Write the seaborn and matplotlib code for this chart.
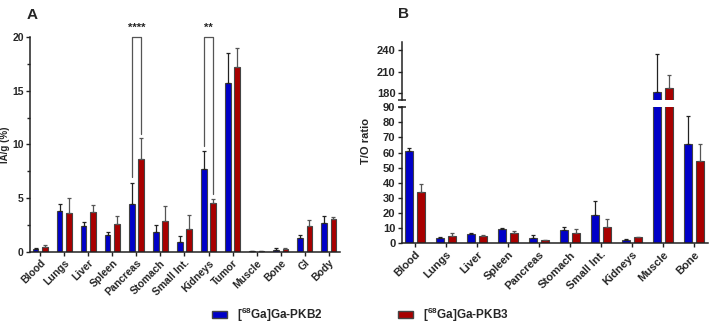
import numpy as np
import pandas as pd
import seaborn as sns
import matplotlib.pyplot as plt
from matplotlib.patches import Patch
from matplotlib.ticker import AutoMinorLocator, MultipleLocator

sns.set_style("white")
plt.rcParams['font.family'] = ['Liberation Sans', 'DejaVu Sans']
plt.rcParams['font.weight'] = 'bold'
plt.rcParams['mathtext.fontset'] = 'custom'
plt.rcParams['mathtext.bf'] = 'Liberation Sans:bold'
plt.rcParams['mathtext.rm'] = 'Liberation Sans:bold'
plt.rcParams['mathtext.default'] = 'bf'

# --- data: panel A, biodistribution (IA/g %) ---
organs_a = ['Blood', 'Lungs', 'Liver', 'Spleen', 'Pancreas', 'Stomach', 'Small Int.',
            'Kidneys', 'Tumor', 'Muscle', 'Bone', 'GI', 'Body']
pkb2_a = [0.22, 3.80, 2.36, 1.54, 4.43, 1.79, 0.94, 7.68, 15.72, 0.05, 0.19, 1.26, 2.67]
pkb2_a_sd = [0.08, 0.63, 0.38, 0.32, 1.97, 0.69, 0.54, 1.70, 2.77, 0.03, 0.12, 0.34, 0.63]
pkb3_a = [0.47, 3.62, 3.74, 2.61, 8.65, 2.86, 2.08, 4.50, 17.20, 0.05, 0.25, 2.36, 3.05]
pkb3_a_sd = [0.13, 1.38, 0.63, 0.69, 1.92, 1.42, 1.35, 0.40, 1.80, 0.03, 0.13, 0.60, 0.22]

# --- data: panel B, tumor-to-organ ratio ---
organs_b = ['Blood', 'Lungs', 'Liver', 'Spleen', 'Pancreas', 'Stomach', 'Small Int.',
            'Kidneys', 'Muscle', 'Bone']
pkb2_b = [61.2, 3.7, 5.9, 9.3, 3.7, 8.7, 18.9, 2.2, 181.4, 66.0]
pkb2_b_sd = [1.8, 0.6, 1.1, 0.9, 1.5, 2.2, 8.9, 0.4, 52.2, 17.9]
pkb3_b = [34.0, 5.0, 4.8, 6.7, 2.0, 6.7, 10.7, 3.9, 186.8, 54.5]
pkb3_b_sd = [4.9, 2.0, 0.4, 1.6, 0.4, 2.9, 5.6, 0.4, 19.1, 11.0]

label2 = r'[$^{68}$Ga]Ga-PKB2'
label3 = r'[$^{68}$Ga]Ga-PKB3'
blue = '#0000C8'
red = '#A80000'
palette = {label2: blue, label3: red}
err_cols = {label2: '#222222', label3: '#555555'}


def long_df(organs, v2, s2, v3, s3):
    d2 = pd.DataFrame({'organ': organs, 'value': v2, 'sd': s2, 'tracer': label2})
    d3 = pd.DataFrame({'organ': organs, 'value': v3, 'sd': s3, 'tracer': label3})
    return pd.concat([d2, d3], ignore_index=True)


def draw_bars(ax, df, width, gap, ylim):
    sns.barplot(data=df, x='organ', y='value', hue='tracer', palette=palette,
                width=width, gap=gap, errorbar=None, edgecolor='#444444',
                linewidth=0.8, saturation=1, legend=False, ax=ax)
    # patches come in hue order: all PKB2 then all PKB3
    n = df['organ'].nunique()
    for k, tr in enumerate([label2, label3]):
        sub = df[df['tracer'] == tr]
        xs = [p.get_x() + p.get_width() / 2 for p in ax.patches[k * n:(k + 1) * n]]
        ax.errorbar(xs, sub['value'], yerr=[np.zeros(n), sub['sd']], fmt='none',
                    ecolor=err_cols[tr], elinewidth=0.9, capsize=1.6, capthick=0.9, zorder=1)
    ax.set_ylim(*ylim)
    ax.set_xlabel('')
    ax.set_ylabel('')
    return ax


fig = plt.figure(figsize=(7.09, 3.25), dpi=100)

# ---------- panel A ----------
ax_a = fig.add_axes([0.0423, 0.2255, 0.4372, 0.6607])
df_a = long_df(organs_a, pkb2_a, pkb2_a_sd, pkb3_a, pkb3_a_sd)
draw_bars(ax_a, df_a, 0.76, 0.42, (0, 20))
ax_a.set_xlim(-0.43, 12.47)
ax_a.yaxis.set_major_locator(MultipleLocator(5))
ax_a.yaxis.set_minor_locator(AutoMinorLocator(2))
ax_a.set_ylabel('IA/g (%)', fontsize=7, fontweight='bold')
ax_a.yaxis.set_label_coords(-0.066, 0.5)

# significance brackets
x2 = [p.get_x() + p.get_width() / 2 for p in ax_a.patches[:13]]
x3 = [p.get_x() + p.get_width() / 2 for p in ax_a.patches[13:26]]
for idx, lo_l, lo_r, stars in [(4, 7.0, 11.0, '****'), (7, 9.8, 5.4, '**')]:
    ax_a.plot([x2[idx], x2[idx], x3[idx], x3[idx]], [lo_l, 20, 20, lo_r],
              color='#555555', lw=0.9, clip_on=False, zorder=3)
    ax_a.text((x2[idx] + x3[idx]) / 2, 20.35, stars, ha='center', va='bottom',
              fontsize=8, fontweight='bold', clip_on=False)

# ---------- panel B (broken y axis) ----------
ax_bl = fig.add_axes([0.5666, 0.2514, 0.4320, 0.4186])
ax_bu = fig.add_axes([0.5666, 0.6923, 0.4320, 0.1775], sharex=ax_bl)
df_b = long_df(organs_b, pkb2_b, pkb2_b_sd, pkb3_b, pkb3_b_sd)
draw_bars(ax_bl, df_b, 0.78, 0.385, (0, 90))
draw_bars(ax_bu, df_b, 0.78, 0.385, (171, 250))
ax_bl.set_xlim(-0.43, 9.45)
ax_bl.yaxis.set_major_locator(MultipleLocator(10))
ax_bu.set_yticks([180, 210, 240])
ax_bu.tick_params(axis='x', bottom=False, labelbottom=False)
ax_bl.set_ylabel('T/O ratio', fontsize=8, fontweight='bold', labelpad=3)
ax_bl.yaxis.set_label_coords(-0.1, 0.75)

# styling shared by all axes
for ax, fs in [(ax_a, 7.5), (ax_bl, 8), (ax_bu, 8)]:
    for s in ['top', 'right']:
        ax.spines[s].set_visible(False)
    ax.spines['left'].set_linewidth(1.1)
    ax.spines['bottom'].set_linewidth(1.1)
    ax.spines['left'].set_color('#222222')
    ax.spines['bottom'].set_color('#222222')
    ax.tick_params(axis='both', which='both', direction='out', length=3, width=1,
                   color='#222222', labelsize=fs, pad=1.5, left=True, bottom=True)
    ax.tick_params(axis='y', which='minor', length=2)
    for t in ax.get_yticklabels():
        t.set_fontweight('bold')
ax_bu.spines['bottom'].set_visible(False)
ax_bu.tick_params(axis='x', bottom=False, labelbottom=False)

for ax, fs in [(ax_a, 7.5), (ax_bl, 8)]:
    ax.set_xticks(ax.get_xticks())
    ax.set_xticklabels([t.get_text() for t in ax.get_xticklabels()], rotation=45,
                       ha='right', rotation_mode='anchor', fontsize=fs, fontweight='bold')

# break caps on the split spine
ax_bu.plot([0], [0], marker='_', ms=6, mew=1.1, color='#222222',
           transform=ax_bu.transAxes, clip_on=False)
ax_bl.plot([0], [1], marker='_', ms=6, mew=1.1, color='#222222',
           transform=ax_bl.transAxes, clip_on=False)

# panel letters
fig.text(0.038, 0.975, 'A', fontsize=11, fontweight='bold', va='top')
fig.text(0.561, 0.978, 'B', fontsize=11, fontweight='bold', va='top')

# legend
handles = [Patch(facecolor=blue, edgecolor='#444444', label=label2),
           Patch(facecolor=red, edgecolor='#444444', label=label3)]
fig.legend(handles=handles, loc='center', bbox_to_anchor=(0.508, 0.032), ncol=2,
           frameon=False, prop={'size': 8.5, 'weight': 'bold'}, handlelength=1.3,
           handleheight=0.6, handletextpad=0.8, columnspacing=6.4)

fig.savefig('out.png', dpi=100)
